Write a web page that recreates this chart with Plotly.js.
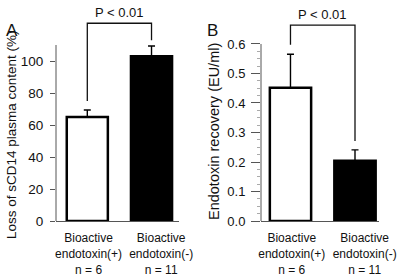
<!DOCTYPE html>
<html>
<head>
<meta charset="utf-8">
<script src="https://cdn.plot.ly/plotly-3.0.1.min.js"></script>
<style>html,body{margin:0;padding:0;background:#fff;}#chart{width:400px;height:277px;}</style>
</head>
<body>
<div id="chart"></div>
<script>
// ---- data ----
const groupNames = ['Bioactive', 'Bioactive'];
const groupStates = ['endotoxin(+)', 'endotoxin(-)'];
const groupN = ['n = 6', 'n = 11'];
const sCD14Loss = [65, 103];          // % loss of sCD14 plasma content
const sCD14Err = [4.4, 6.4];
const endoRecovery = [0.452, 0.204];  // EU/ml
const endoErr = [0.113, 0.037];
const barColors = ['white', 'black'];
const sCD14Ticks = [0, 20, 40, 60, 80, 100];
const endoTicks = [0, 0.1, 0.2, 0.3, 0.4, 0.5, 0.6];
const pText = 'P < 0.01';
const sCD14Bracket = {left: 75, top: 123.6, right: 113};
const endoBracket = {left: 0.597, top: 0.664, right: 0.271};

// ---- layout helpers ----
const xpos = groupNames.map((_, i) => i);
const labelOffset = [0.02, 0.15];
const tickText = groupNames.map((g, i) => g + '<br>' + groupStates[i] + '<br>' + groupN[i]);
const font = 'Liberation Sans, Arial, Helvetica, sans-serif';
const axisGray = '#555';

function barTrace(vals, errs, xa, ya) {
  return {
    type: 'bar', x: xpos, y: vals, xaxis: xa, yaxis: ya, width: 0.64,
    marker: {color: barColors, line: {color: 'black', width: 2.5}},
    error_y: {type: 'data', symmetric: false, array: errs, arrayminus: errs.map(() => 0),
              color: 'black', thickness: 1.4, width: 3.5},
    hoverinfo: 'skip', showlegend: false
  };
}

const traces = [
  barTrace(sCD14Loss, sCD14Err, 'x', 'y'),
  barTrace(endoRecovery, endoErr, 'x2', 'y2')
];

const minorEndo = [];
for (let k = 1; k < 24; k++) { if (k % 4) minorEndo.push(k * 0.025); }

const xCommon = {
  tickmode: 'array', tickvals: xpos.map((v, i) => v + labelOffset[i]), ticktext: tickText,
  showline: true, linecolor: axisGray, linewidth: 1, ticks: '', showgrid: false, zeroline: false,
  tickfont: {family: font, size: 12, color: '#111'}, ticklabelstandoff: 6, fixedrange: true
};

const layout = {
  width: 400, height: 277,
  margin: {l: 0, r: 0, t: 19, b: 56},
  paper_bgcolor: 'white', plot_bgcolor: 'white',
  showlegend: false,
  bargap: 0,
  xaxis: Object.assign({}, xCommon, {domain: [56/400, 179/400], range: [-0.4875, 1.428], anchor: 'y'}),
  xaxis2: Object.assign({}, xCommon, {domain: [261/400, 379/400], range: [-0.457, 1.372], anchor: 'y2'}),
  yaxis: {
    domain: [0, 1], range: [0, 126.25], anchor: 'x', showline: false, showgrid: false, zeroline: false,
    tickmode: 'array', tickvals: sCD14Ticks, ticks: 'outside', ticklen: 5, tickcolor: axisGray,
    tickfont: {family: font, size: 13.5, color: '#111'}, ticklabelstandoff: 4
  },
  yaxis2: {
    domain: [0, 1], range: [0, 0.6847], anchor: 'x2', showline: false, showgrid: false, zeroline: false,
    tickmode: 'array', tickvals: endoTicks, tickformat: '.1f', ticks: 'outside', ticklen: 9, tickcolor: axisGray,
    tickfont: {family: font, size: 13, color: '#111'}, ticklabelstandoff: 3,
    minor: {tickmode: 'array', tickvals: minorEndo, ticks: 'outside', ticklen: 3, tickcolor: '#aaa', showgrid: false}
  },
  shapes: [
    {type: 'line', xref: 'x domain', yref: 'y', x0: 0, x1: 0, y0: 0, y1: 110, line: {color: axisGray, width: 1}},
    {type: 'line', xref: 'x2 domain', yref: 'y2', x0: 0, x1: 0, y0: 0, y1: 0.6, line: {color: axisGray, width: 1}},
    {type: 'path', xref: 'x', yref: 'y',
     path: `M ${xpos[0]},${sCD14Bracket.left} L ${xpos[0]},${sCD14Bracket.top} L ${xpos[1]},${sCD14Bracket.top} L ${xpos[1]},${sCD14Bracket.right}`,
     line: {color: '#111', width: 1.3}},
    {type: 'path', xref: 'x2', yref: 'y2',
     path: `M ${xpos[0]},${endoBracket.left} L ${xpos[0]},${endoBracket.top} L ${xpos[1]},${endoBracket.top} L ${xpos[1]},${endoBracket.right}`,
     line: {color: '#111', width: 1.3}}
  ],
  annotations: [
    {text: pText, xref: 'x', yref: 'y', x: 0.5, y: sCD14Bracket.top, yanchor: 'bottom', yshift: 1, showarrow: false,
     font: {family: font, size: 13, color: '#111'}},
    {text: pText, xref: 'x2', yref: 'y2', x: 0.5, y: endoBracket.top, yanchor: 'bottom', yshift: 1, showarrow: false,
     font: {family: font, size: 13, color: '#111'}},
    {text: 'A', xref: 'paper', yref: 'paper', x: 12/400, y: (277-19-11)/202 - 56/202, xanchor: 'center', yanchor: 'middle',
     showarrow: false, font: {family: font, size: 17, color: '#111'}},
    {text: 'B', xref: 'paper', yref: 'paper', x: 212.5/400, y: (277-19-11)/202 - 56/202, xanchor: 'center', yanchor: 'middle',
     showarrow: false, font: {family: font, size: 17, color: '#111'}},
    {text: 'Loss of sCD14 plasma content (%)', xref: 'paper', yref: 'paper', x: 11/400, y: (221-135)/202,
     xanchor: 'center', yanchor: 'middle', textangle: -90, showarrow: false,
     font: {family: font, size: 13.5, color: '#111'}},
    {text: 'Endotoxin recovery (EU/ml)', xref: 'paper', yref: 'paper', x: 214/400, y: (221-132)/202,
     xanchor: 'center', yanchor: 'middle', textangle: -90, showarrow: false,
     font: {family: font, size: 14.5, color: '#111'}}
  ]
};

Plotly.newPlot('chart', traces, layout, {staticPlot: true, displayModeBar: false});
</script>
</body>
</html>
